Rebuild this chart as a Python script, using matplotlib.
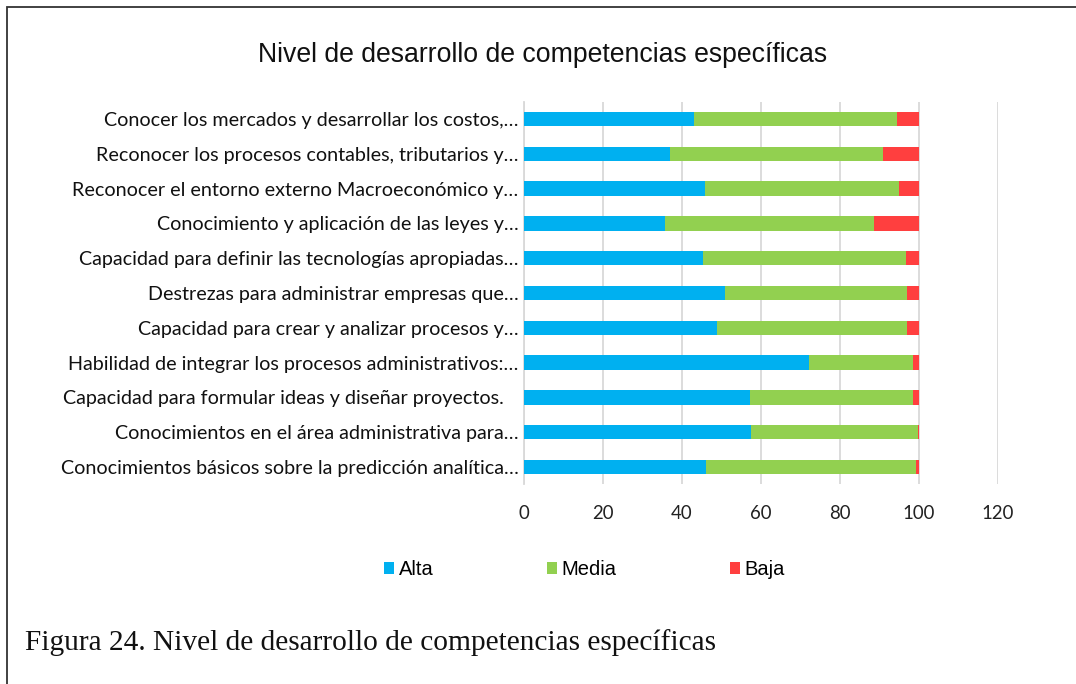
import matplotlib
matplotlib.use("Agg")
import matplotlib.pyplot as plt
from matplotlib.patches import Patch, Rectangle
import numpy as np

categories = [
    "Conocer los mercados y desarrollar los costos,…",
    "Reconocer los procesos contables, tributarios y…",
    "Reconocer el entorno externo Macroeconómico y…",
    "Conocimiento y aplicación de las leyes y…",
    "Capacidad para definir las tecnologías apropiadas…",
    "Destrezas para administrar empresas que…",
    "Capacidad para crear y analizar procesos y…",
    "Habilidad de integrar los procesos administrativos:…",
    "Capacidad para formular ideas y diseñar proyectos.   ",
    "Conocimientos en el área administrativa para…",
    "Conocimientos básicos sobre la predicción analítica…",
]
alta = [43.0, 37.0, 45.7, 35.6, 45.3, 50.9, 48.9, 72.2, 57.2, 57.5, 46.1]
media = [51.4, 53.9, 49.2, 53.0, 51.3, 46.1, 48.1, 26.2, 41.2, 42.2, 53.1]
baja = [5.6, 9.1, 5.1, 11.4, 3.4, 3.0, 3.0, 1.6, 1.6, 0.3, 0.8]
series_names = ["Alta", "Media", "Baja"]
colors = ["#00B0F0", "#92D050", "#FF3F3F"]
xticks = [0, 20, 40, 60, 80, 100, 120]

W, H = 1076, 684
fig = plt.figure(figsize=(W / 100, H / 100), dpi=100)

# outer frame
fig.add_artist(Rectangle((6.5 / W, -0.1), 1.2, 1 - 6.5 / H + 0.1, transform=fig.transFigure,
                         fill=False, edgecolor="#333333", linewidth=1.3))

ax_left, ax_right = 524 / W, 998 / W
ax_top, ax_bot = 1 - 101.6 / H, 1 - 484.4 / H
ax = fig.add_axes([ax_left, ax_bot, ax_right - ax_left, ax_top - ax_bot])

y = np.arange(len(categories))
left = np.zeros(len(categories))
for vals, name, c in zip([alta, media, baja], series_names, colors):
    ax.barh(y, vals, left=left, height=0.41, color=c, label=name, zorder=3)
    left = left + np.array(vals)

ax.set_xlim(0, 120)
ax.set_ylim(len(categories) - 0.5, -0.5)
ax.set_xticks(xticks)
ax.set_xticklabels([str(t) for t in xticks], family="Lato", fontsize=13.4, color="#222222")
ax.set_yticks(y)
ax.set_yticklabels(categories, family="Lato", fontsize=14.2, color="#111111")
ax.tick_params(axis="x", length=0, pad=15)
ax.tick_params(axis="y", length=0, pad=4)
ax.grid(axis="x", color="#D9D9D9", linewidth=1.3, zorder=0)
for s in ["top", "right", "bottom"]:
    ax.spines[s].set_visible(False)
ax.spines["left"].set_color("#D9D9D9")
ax.spines["left"].set_linewidth(1.3)

fig.text(543 / W, 1 - 55 / H, "Nivel de desarrollo de competencias específicas",
         ha="center", va="center", family="Liberation Sans", fontsize=19.2, color="#111111")

handles = [Patch(facecolor=c, edgecolor="none") for c in colors]
fig.legend(handles, series_names, ncol=3, loc="center", bbox_to_anchor=(584.5 / W, 1 - 569.5 / H),
           frameon=False, prop={"family": "Liberation Sans", "size": 14.5},
           handlelength=0.5, handleheight=0.5, handletextpad=0.25, columnspacing=5.6)

fig.text(25 / W, 1 - 643 / H, "Figura 24. Nivel de desarrollo de competencias específicas",
         ha="left", va="center", family="Liberation Serif", fontsize=21.2, color="#111111")

fig.savefig("out.png", dpi=100)
